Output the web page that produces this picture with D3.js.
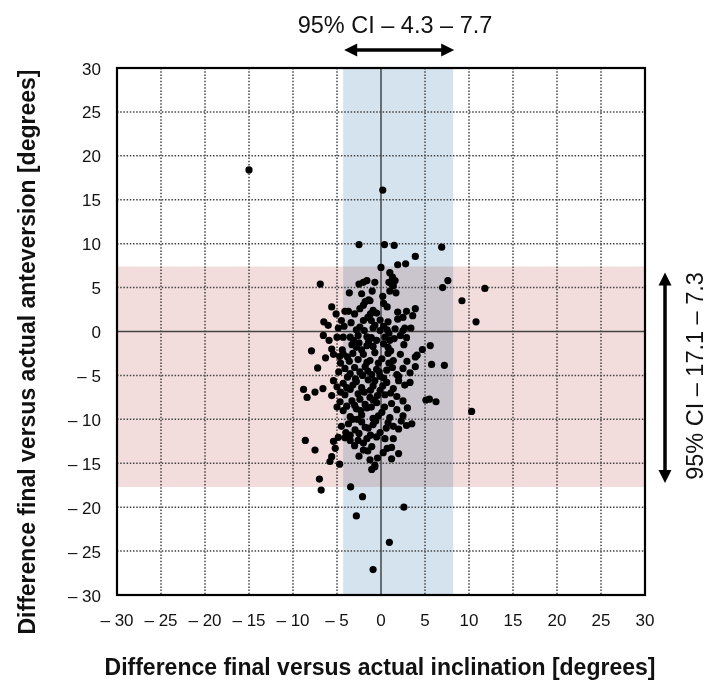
<!DOCTYPE html>
<html>
<head>
<meta charset="utf-8">
<script src="https://d3js.org/d3.v7.min.js"></script>
<title>Difference final versus actual</title>
<style>
body { margin:0; background:#fff; }
text { font-family:"Liberation Sans", Arial, Helvetica, sans-serif; fill:#111; }
</style>
</head>
<body>
<div id="chart"></div>
<script>
// ticks on both axes
var ticks = [-30, -25, -20, -15, -10, -5, 0, 5, 10, 15, 20, 25, 30];

// 95% CI bands (as drawn) and their labels
var ciInclination = [-4.3, 8.2];
var ciAnteversion = [-17.7, 7.4];
var ciInclinationLabel = "95% CI \u2013 4.3 \u2013 7.7";
var ciAnteversionLabel = "95% CI \u2013 17.1 \u2013 7.3";

var xTitle = "Difference final versus actual inclination [degrees]";
var yTitle = "Difference final versus actual anteversion [degrees]";

// [inclination difference, anteversion difference]
var outliers = [[-15, 18.4], [0.2, 16.1], [11.8, 4.9], [10.8, 1.1], [9.2, 3.5], [10.3, -9.1],
  [-7.0, -16.8], [-6.8, -18.05], [-3.45, -17.7], [-2.1, -18.8], [2.6, -20.0], [-2.8, -21.0],
  [0.95, -24.0], [-0.9, -27.1]];

var upper = [[-2.5, 9.9], [0.4, 9.9], [1.5, 9.8], [6.9, 9.6], [3.9, 8.55], [1.9, 7.6], [2.8, 7.7],
  [0.0, 7.3], [1.0, 6.7], [1.3, 6.2], [1.6, 5.8], [0.9, 5.6], [7.6, 5.8], [7.0, 5.0], [-6.9, 5.4],
  [-1.6, 5.8], [-2.0, 5.6], [-2.5, 5.4], [-0.7, 5.6], [1.2, 5.4], [1.0, 4.6], [1.7, 4.4], [1.4, 5.2],
  [-3.6, 4.4], [-2.2, 4.3], [0.2, 4.0], [-1.25, 3.5], [-1.4, 3.6], [-1.8, 3.4], [-5.6, 2.8],
  [-2.4, 2.6], [-2.0, 3.0], [0.7, 2.8], [3.9, 2.6], [-4.1, 2.3], [-3.7, 2.3], [-5.1, 2.0],
  [-0.9, 2.4], [-0.5, 2.1], [-1.2, 2.0], [1.9, 2.2], [2.9, 2.3], [3.6, 1.8], [-6.5, 1.1],
  [-6.0, 0.7], [-4.5, 1.25], [-2.0, 1.25], [-1.5, 1.6], [-1.1, 1.25], [-0.1, 1.3], [0.8, 1.1],
  [1.9, 1.4], [2.5, 1.6], [-4.85, 0.4], [-4.2, 0.6], [-2.8, 0.2], [-2.4, 0.5], [-0.9, 0.4],
  [-0.1, 0.1], [0.7, 0.2], [2.5, 0.1], [3.4, 0.4], [2.7, 0.4], [-3.4, 1.0], [-1.9, 0.1],
  [0.3, 0.6], [1.6, 0.3], [-0.7, 0.7], [-3.0, 2.0], [0.3, 3.2], [-1.0, 4.6], [0.9, -0.2]];

var middle = [[-6.55, -0.45], [-5.9, -1.0], [-5.0, -0.65], [-4.3, -0.65], [-3.5, -0.65],
  [-3.1, -1.0], [-2.6, -0.45], [-1.6, -0.6], [-1.1, -0.7], [-0.5, -1.0], [0.45, -0.65], [1.0, -1.0],
  [1.5, -0.8], [2.2, -0.45], [2.9, -0.7], [-7.9, -2.2], [-5.6, -2.0], [-2.8, -1.8], [-1.6, -1.6],
  [0.3, -1.4], [0.8, -1.8], [4.7, -2.05], [5.6, -1.6], [4.1, -2.7], [-3.3, -1.5], [-2.2, -2.1],
  [-0.9, -1.7], [1.1, -2.2], [2.6, -1.5], [-4.4, -2.1], [-1.4, -1.1], [-2.5, -1.3],
  [-6.3, -3.0], [-5.4, -2.6], [-4.7, -2.85], [-4.3, -2.55], [-7.2, -4.15], [5.75, -3.75],
  [7.2, -3.85], [-3.2, -2.5], [-2.6, -3.2], [-2.0, -2.6], [-1.25, -3.3], [-0.7, -2.4], [0.1, -3.1],
  [0.8, -2.5], [1.4, -3.3], [2.2, -2.6], [2.95, -3.4], [3.9, -2.9], [-3.8, -2.9], [-1.6, -3.5],
  [-0.3, -3.6], [-4.6, -3.6], [-3.6, -3.4], [0.9, -3.6],
  [-4.1, -4.2], [-3.5, -4.8], [-3.0, -4.1], [-2.4, -4.6], [-1.8, -4.0], [-1.05, -4.9], [-0.5, -4.3],
  [-0.1, -5.1], [0.65, -4.4], [1.8, -4.9], [2.5, -4.2], [3.3, -4.7], [3.9, -4.0], [-3.8, -5.2],
  [-2.1, -5.0], [1.3, -4.1], [2.0, -5.1], [-4.8, -4.6], [-2.9, -5.4], [-1.5, -4.5], [-0.2, -4.6],
  [-5.4, -5.6], [-5.0, -6.3], [-4.3, -5.9], [-3.5, -6.6], [-2.8, -5.7], [-2.2, -6.4], [-1.45, -5.5],
  [-0.9, -6.2], [-0.1, -6.7], [0.65, -5.8], [1.4, -6.5], [2.0, -5.6], [2.7, -6.1], [-0.7, -5.6],
  [0.3, -5.3], [-3.9, -6.4], [-1.9, -6.9], [3.3, -5.8], [-4.6, -6.9], [-3.2, -6.1], [-1.2, -6.7],
  [0.2, -6.2], [-8.8, -6.6], [-7.5, -6.9], [-6.6, -6.5], [-8.4, -7.5]];

var lower = [[-5.6, -7.3], [-4.65, -8.0], [-4.1, -7.2], [-3.3, -7.9], [-2.6, -7.1], [-1.8, -8.3],
  [-1.25, -7.5], [-0.5, -8.1], [0.45, -7.2], [1.2, -8.2], [1.8, -7.4], [2.5, -7.9], [-0.4, -7.3],
  [1.1, -7.0], [5.1, -7.8], [5.5, -7.7], [6.25, -8.0], [-2.4, -7.7], [-0.9, -7.8],
  [-4.3, -9.0], [-3.5, -9.7], [-2.8, -8.8], [-2.2, -9.5], [-1.6, -8.7], [-0.9, -9.9], [0.1, -9.2],
  [1.0, -9.8], [1.8, -8.9], [2.5, -9.6], [-3.0, -8.4], [-1.1, -8.6], [-0.3, -9.6], [0.4, -8.6],
  [3.0, -8.7], [-5.0, -8.6], [-3.9, -8.5], [-2.3, -9.0],
  [-3.7, -10.5], [-2.95, -11.2], [-2.2, -10.3], [-1.45, -11.0], [-0.9, -10.6], [-0.1, -11.5],
  [0.8, -10.4], [2.0, -11.1], [2.9, -10.7], [3.5, -10.5], [-3.2, -10.0], [-1.8, -10.9],
  [-2.5, -11.6], [-1.2, -11.8], [0.6, -11.0], [2.3, -10.2], [-4.5, -10.8], [-4.0, -11.5],
  [-0.6, -10.2], [-2.7, -10.0], [1.4, -10.8], [-3.5, -11.8],
  [-8.6, -12.4], [-7.5, -13.5], [-5.4, -12.5], [-5.2, -13.3], [-4.85, -12.05], [-4.1, -12.1],
  [-3.5, -12.4], [-2.6, -12.4], [-2.0, -12.7], [-1.6, -12.2], [0.45, -12.2], [1.2, -13.2],
  [2.0, -13.9], [-2.0, -13.5], [-1.05, -13.1], [-0.5, -12.0], [-3.0, -13.0], [1.4, -12.2],
  [-1.5, -13.6], [-2.5, -14.2], [-0.4, -14.4], [0.7, -13.3],
  [-5.6, -14.25], [-5.8, -14.8], [-4.7, -15.1], [-1.25, -14.6], [-0.7, -15.2], [0.25, -13.8],
  [1.2, -14.5], [-1.05, -15.7], [-0.7, -15.4]];

var points = outliers.concat(upper, middle, lower);

(function(){
  var w = 709, h = 681;
  var left = 117, right = 645, top = 68, bottom = 595;

  var svg = d3.select("#chart").append("svg")
      .attr("width", w).attr("height", h);

  var x = d3.scaleLinear().domain([-30, 30]).range([left, right]);
  var y = d3.scaleLinear().domain([-30, 30]).range([bottom, top]);

  function fmt(d) { return d < 0 ? "\u2013 " + (-d) : String(d); }

  // CI bands
  svg.append("rect")
     .attr("x", left).attr("width", right - left)
     .attr("y", y(ciAnteversion[1])).attr("height", y(ciAnteversion[0]) - y(ciAnteversion[1]))
     .attr("fill", "#f2dcdc");
  svg.append("rect")
     .attr("x", x(ciInclination[0])).attr("width", x(ciInclination[1]) - x(ciInclination[0]))
     .attr("y", top).attr("height", bottom - top)
     .attr("fill", "#d5e3ee")
     .style("mix-blend-mode", "multiply");

  // dotted grid
  var inner = ticks.filter(function(d) { return d > -30 && d < 30 && d != 0; });
  svg.append("g").selectAll("line.gx").data(inner).enter().append("line")
     .attr("x1", function(d) { return x(d); }).attr("x2", function(d) { return x(d); })
     .attr("y1", top).attr("y2", bottom)
     .attr("stroke", "#444").attr("stroke-width", 1.5).attr("stroke-dasharray", "1.5,1.7");
  svg.append("g").selectAll("line.gy").data(inner).enter().append("line")
     .attr("y1", function(d) { return y(d); }).attr("y2", function(d) { return y(d); })
     .attr("x1", left).attr("x2", right)
     .attr("stroke", "#444").attr("stroke-width", 1.5).attr("stroke-dasharray", "1.5,1.7");

  // zero lines
  svg.append("line").attr("x1", x(0)).attr("x2", x(0)).attr("y1", top).attr("y2", bottom)
     .attr("stroke", "#444").attr("stroke-width", 1.5);
  svg.append("line").attr("y1", y(0)).attr("y2", y(0)).attr("x1", left).attr("x2", right)
     .attr("stroke", "#444").attr("stroke-width", 1.5);

  // points
  svg.append("g").selectAll("circle").data(points).enter().append("circle")
     .attr("cx", function(d) { return x(d[0]); })
     .attr("cy", function(d) { return y(d[1]); })
     .attr("r", 3.6)
     .attr("fill", "#000");

  // frame
  svg.append("rect")
     .attr("x", left).attr("y", top).attr("width", right - left).attr("height", bottom - top)
     .attr("fill", "none").attr("stroke", "#000").attr("stroke-width", 2.2);

  // tick labels
  svg.append("g").selectAll("text").data(ticks).enter().append("text")
     .attr("x", function(d) { return x(d); }).attr("y", 626)
     .attr("text-anchor", "middle").style("font-size", "17px")
     .text(fmt);
  svg.append("g").selectAll("text").data(ticks).enter().append("text")
     .attr("x", 101).attr("y", function(d) { return y(d) + 6.5; })
     .attr("text-anchor", "end").style("font-size", "17px")
     .text(fmt);

  // axis titles
  svg.append("text")
     .attr("x", 380).attr("y", 675)
     .attr("text-anchor", "middle")
     .style("font-size", "23px").style("font-weight", "bold")
     .text(xTitle);
  svg.append("text")
     .attr("transform", "translate(35," + 352 + ") rotate(-90)")
     .attr("text-anchor", "middle")
     .style("font-size", "23px").style("font-weight", "bold")
     .text(yTitle);

  // double headed arrows
  function arrow(x1, y1, x2, y2) {
    var g = svg.append("g");
    var len = Math.sqrt((x2 - x1) * (x2 - x1) + (y2 - y1) * (y2 - y1));
    var ux = (x2 - x1) / len, uy = (y2 - y1) / len;
    var hl = 13, hw = 6.5;
    g.append("line")
     .attr("x1", x1 + ux * hl * 0.8).attr("y1", y1 + uy * hl * 0.8)
     .attr("x2", x2 - ux * hl * 0.8).attr("y2", y2 - uy * hl * 0.8)
     .attr("stroke", "#000").attr("stroke-width", 3.5);
    [[x1, y1, 1], [x2, y2, -1]].forEach(function(p) {
      var bx = p[0] + p[2] * ux * hl, by = p[1] + p[2] * uy * hl;
      g.append("path")
       .attr("d", "M" + p[0] + "," + p[1] +
                  "L" + (bx - uy * hw) + "," + (by + ux * hw) +
                  "L" + (bx + uy * hw) + "," + (by - ux * hw) + "Z")
       .attr("fill", "#000");
    });
  }

  arrow(x(ciInclination[0]) + 1, 50, x(ciInclination[1]) + 1, 50);
  svg.append("text")
     .attr("x", 395).attr("y", 33)
     .attr("text-anchor", "middle").style("font-size", "23.5px")
     .text(ciInclinationLabel);

  arrow(665, y(ciAnteversion[1]) + 6, 665, y(ciAnteversion[0]) - 4);
  svg.append("text")
     .attr("transform", "translate(703," + 376 + ") rotate(-90)")
     .attr("text-anchor", "middle").style("font-size", "23.5px")
     .text(ciAnteversionLabel);
})();
</script>
</body>
</html>
